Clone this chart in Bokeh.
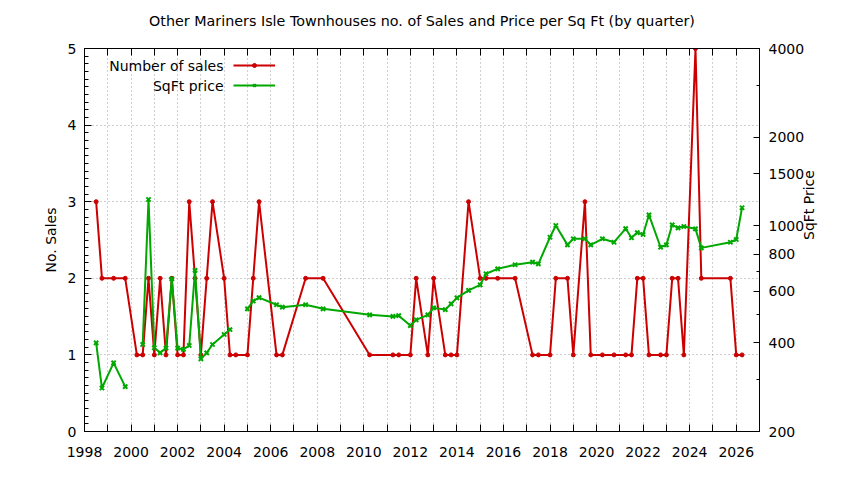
import math
from bokeh.plotting import figure
from bokeh.models import (LinearAxis, LogAxis, Range1d, FixedTicker, LogScale,
                          PrintfTickFormatter, Legend, LegendItem, Label, Title,
                          ColumnDataSource, CustomLabelingPolicy)
from bokeh.embed import file_html
from bokeh.resources import INLINE

NaN = float("nan")

# ---- data (quarterly) ----
quarters = [1998.5, 1998.75, 1999.25, 1999.75, 2000.25, 2000.5, 2000.75, 2001.0,
            2001.25, 2001.5, 2001.75, 2002.0, 2002.25, 2002.5, 2002.75, 2003.0,
            2003.25, 2003.5, 2004.0, 2004.25, 2004.5, 2005.0, 2005.25, 2005.5,
            2006.25, 2006.5, 2007.5, 2008.25, 2010.25, 2011.25, 2011.5, 2012.0,
            2012.25, 2012.75, 2013.0, 2013.5, 2013.75, 2014.0, 2014.5, 2015.0,
            2015.25, 2015.75, 2016.5, 2017.25, 2017.5, 2018.0, 2018.25, 2018.75,
            2019.0, 2019.5, 2019.75, 2020.25, 2020.75, 2021.25, 2021.5, 2021.75,
            2022.0, 2022.25, 2022.75, 2023.0, 2023.25, 2023.5, 2023.75, 2024.25,
            2024.5, 2025.75, 2026.0, 2026.25]
sales = [3, 2, 2, 2, 1, 1, 2, 1,
         2, 1, 2, 1, 1, 3, 2, 1,
         2, 3, 2, 1, 1, 1, 2, 3,
         1, 1, 2, 2, 1, 1, 1, 1,
         2, 1, 2, 1, 1, 1, 3, 2,
         2, 2, 2, 1, 1, 1, 2, 2,
         1, 3, 1, 1, 1, 1, 1, 2,
         2, 1, 1, 1, 2, 2, 1, 5,
         2, 2, 1, 1]
price = [400, 281, 342, 284, NaN, 395, 1228, 385,
         370, 384, 660, 384, 380, 392, 705, 353,
         370, 395, 427, 444, NaN, 522, 555, 570,
         539, 529, 539, 522, 498, 492, 495, 458,
         479, 498, 526, 519, 543, 569, 603, 630,
         687, 714, 737, 752, 742, 914, 1002, 861,
         903, 903, 861, 903, 879, 978, 910, 948,
         934, 1089, 845, 861, 1007, 984, 994, 976,
         841, 879, 898, 1151]

x_major = list(range(1998, 2027, 2))
x_minor = list(range(1999, 2028, 2))
sales_ticks = [0, 1, 2, 3, 4, 5]
price_ticks = [200, 400, 600, 800, 1000, 1500, 2000, 4000]
price_minor = [300, 500, 700, 900, 3000]

title_text = "Other Mariners Isle Townhouses no. of Sales and Price per Sq Ft (by quarter)"
left_label = "No. Sales"
right_label = "SqFt Price"
legend_labels = ["Number of sales", "SqFt price"]

RED = "#cc0000"
GREEN = "#00a800"
FONT = "DejaVu Sans"
FS = "14px"

src = ColumnDataSource(dict(q=quarters, sales=sales, price=price))

p = figure(width=828, height=464, x_range=Range1d(1998, 2027), y_range=Range1d(0, 5),
           output_backend="svg", toolbar_location=None, title=None,
           min_border_left=84, min_border_right=69, min_border_top=48, min_border_bottom=33)
p.extra_y_ranges = {"price": Range1d(200, 4000)}
p.extra_y_scales = {"price": LogScale()}
p.background_fill_color = "white"
p.border_fill_color = "white"
p.outline_line_color = "black"
p.outline_line_width = 1

# x axis
xa = p.xaxis[0]
xa.ticker = FixedTicker(ticks=x_major, minor_ticks=x_minor)
xa.major_label_text_font = FONT
xa.major_label_text_font_size = FS
xa.major_label_text_color = "black"
xa.major_tick_in = 7
xa.major_tick_out = 0
xa.minor_tick_in = 7
xa.minor_tick_out = 0
xa.major_label_standoff = 15
xa.axis_line_color = "black"

# mirrored ticks on the top border (no labels)
top = LinearAxis(ticker=FixedTicker(ticks=x_major, minor_ticks=x_minor))
top.major_label_policy = CustomLabelingPolicy(
    code="const ids = Array.from(indices); for (const i of ids) { indices.unset(i) }; return indices")
top.major_tick_in = 7
top.major_tick_out = 0
top.minor_tick_in = 7
top.minor_tick_out = 0
top.major_label_standoff = 0
p.add_layout(top, "above")

# title (outside the top axis)
p.add_layout(Title(text=title_text, align="center", text_font=FONT,
                   text_font_size="14.3px", text_font_style="normal",
                   text_color="black", standoff=17), "above")

# left axis
ya = p.yaxis[0]
ya.ticker = FixedTicker(ticks=sales_ticks, minor_ticks=[i / 10 for i in range(51)])
ya.axis_label = left_label
ya.axis_label_text_font = FONT
ya.axis_label_text_font_size = FS
ya.axis_label_text_font_style = "normal"
ya.axis_label_text_color = "black"
ya.axis_label_standoff = 6
ya.major_label_text_font = FONT
ya.major_label_text_font_size = FS
ya.major_label_text_color = "black"
ya.major_tick_in = 7
ya.major_tick_out = 0
ya.minor_tick_in = 4
ya.minor_tick_out = 0
ya.major_label_standoff = 8

# right log axis
ra = LogAxis(y_range_name="price",
             ticker=FixedTicker(ticks=price_ticks, minor_ticks=price_minor),
             formatter=PrintfTickFormatter(format="%d"))
ra.axis_label = right_label
ra.axis_label_orientation = math.pi / 2
ra.axis_label_text_font = FONT
ra.axis_label_text_font_size = FS
ra.axis_label_text_font_style = "normal"
ra.axis_label_text_color = "black"
ra.axis_label_standoff = 2
ra.major_label_text_font = FONT
ra.major_label_text_font_size = FS
ra.major_label_text_color = "black"
ra.major_tick_in = 6
ra.major_tick_out = 0
ra.minor_tick_in = 3
ra.minor_tick_out = 0
ra.major_label_standoff = 9
p.add_layout(ra, "right")

# grids
p.xgrid.ticker = FixedTicker(ticks=x_major, minor_ticks=x_minor)
p.xgrid.grid_line_color = "#a0a0a0"
p.xgrid.grid_line_dash = "1 3"
p.xgrid.minor_grid_line_color = "#a0a0a0"
p.xgrid.minor_grid_line_dash = "1 3"
p.ygrid.ticker = FixedTicker(ticks=sales_ticks)
p.ygrid.grid_line_color = "#a0a0a0"
p.ygrid.grid_line_dash = "1 3"

# series
r_line = p.line("q", "sales", source=src, line_color=RED, line_width=2)
r_pts = p.scatter("q", "sales", source=src, marker="circle", size=4,
                  fill_color=RED, line_color=RED)
g_line = p.line("q", "price", source=src, line_color=GREEN, line_width=2,
                y_range_name="price")
g_pts = p.scatter("q", "price", source=src, marker="x", size=6, line_width=2,
                  line_color=GREEN, y_range_name="price")

# legend (gnuplot style: text then sample)
leg = Legend(items=[LegendItem(label=" ", renderers=[r_line, r_pts]),
                    LegendItem(label=" ", renderers=[g_line, g_pts])],
             location=(149, 341), orientation="vertical",
             glyph_width=42, glyph_height=10, spacing=10, padding=0, margin=0,
             label_standoff=0, label_width=0, label_height=0,
             label_text_font_size="1px",
             border_line_color=None, background_fill_alpha=0)
p.add_layout(leg, "center")
for i, t in enumerate(legend_labels):
    p.add_layout(Label(x=139, y=366 - 20 * i, x_units="screen", y_units="screen",
                       text=t, text_align="right", text_baseline="middle",
                       text_font=FONT, text_font_size=FS, text_color="black"))

open("out.html", "w").write(file_html(p, INLINE))
